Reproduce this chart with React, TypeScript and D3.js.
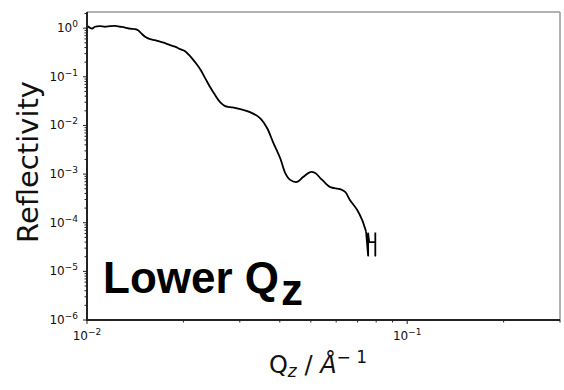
import React from "react";
import * as d3 from "d3";

// values
const qz = [
  0.01, 0.01014, 0.01037, 0.01059, 0.01098, 0.01138, 0.0118, 0.01223, 0.01268, 0.01315,
  0.01363, 0.01413, 0.01443, 0.01475, 0.01518, 0.01574, 0.01631, 0.01691, 0.01753, 0.01817,
  0.01884, 0.01953, 0.02024, 0.02099, 0.02175, 0.02255, 0.02338, 0.02423, 0.02512, 0.02604,
  0.027, 0.028, 0.0301, 0.0323, 0.0347, 0.0365, 0.0381, 0.0401, 0.0416, 0.0431,
  0.0453, 0.0473, 0.0498, 0.0516, 0.0535, 0.0554, 0.0575, 0.0617, 0.064, 0.0663,
  0.0698, 0.0723, 0.0744, 0.0755, 0.0755, 0.0761, 0.0795, 0.0795, 0.0795,
];
const reflectivity = [
  1.1, 1.05, 0.977, 1.07, 1.1, 1.07, 1.1, 1.11, 1.07, 1.03,
  0.977, 0.954, 0.91, 0.79, 0.669, 0.594, 0.567, 0.528, 0.492, 0.448,
  0.417, 0.37, 0.337, 0.266, 0.2, 0.144, 0.094, 0.0615, 0.0421, 0.0303,
  0.025, 0.0239, 0.0217, 0.0188, 0.0142, 0.00885, 0.00456, 0.00214, 0.00105, 7.6e-4,
  6.9e-4, 8.7e-4, 1.1e-3, 1.05e-3, 8.3e-4, 6.6e-4, 5.4e-4, 4.9e-4, 4.3e-4, 2.9e-4,
  1.83e-4, 1.14e-4, 6.5e-5, 2.1e-5, 6.0e-5, 4.0e-5, 4.0e-5, 2.1e-5, 6.3e-5,
];
// the noisy tail (last points) is drawn straight, the rest smoothed
const tailStart = 52;
const xMajorExp = [-2, -1];
const yMajorExp = [-6, -5, -4, -3, -2, -1, 0];

const W = 564;
const H = 390;
const margin = { top: 12, right: 4, bottom: 70, left: 87 };
const font = "DejaVu Sans, sans-serif";

const minus = (n: number) => (n < 0 ? "\u2212" + Math.abs(n) : String(n));

const App: React.FC = () => {
  const x = d3.scaleLog().domain([0.01, 0.3]).range([margin.left, W - margin.right]);
  const y = d3.scaleLog().domain([1e-6, 2.15]).range([H - margin.bottom, margin.top]);

  const pts = qz.map((q, i) => [q, reflectivity[i]] as [number, number]);
  const smooth = d3
    .line<[number, number]>()
    .x(d => x(d[0]))
    .y(d => y(d[1]))
    .curve(d3.curveCatmullRom.alpha(0.5));
  const straight = d3
    .line<[number, number]>()
    .x(d => x(d[0]))
    .y(d => y(d[1]));

  const isMajor = (v: number) => Math.abs(Math.log10(v) - Math.round(Math.log10(v))) < 1e-9;
  const xTicks = x.ticks().filter(v => v >= 0.01 && v <= 0.3);
  const yTicks = y.ticks().filter(v => v >= 1e-6 && v <= 2.15);

  const x0 = margin.left;
  const x1 = W - margin.right;
  const y0 = H - margin.bottom;
  const y1 = margin.top;

  return (
    <svg width={W} height={H} style={{ position: "absolute", left: 0, top: 0, background: "#fff" }} fontFamily={font}>
      <rect x={0} y={0} width={W} height={H} fill="#fff" />

      {/* curve */}
      <path d={smooth(pts.slice(0, tailStart + 1)) ?? ""} fill="none" stroke="#000" strokeWidth={1.8} strokeLinejoin="round" />
      <path d={straight(pts.slice(tailStart)) ?? ""} fill="none" stroke="#000" strokeWidth={1.8} strokeLinejoin="round" />

      {/* spines */}
      <line x1={x0} x2={x1} y1={y1} y2={y1} stroke="#999" strokeWidth={1.5} />
      <line x1={x1} x2={x1} y1={y1} y2={y0} stroke="#999" strokeWidth={1.5} />
      <line x1={x0} x2={x0} y1={y1} y2={y0 + 1} stroke="#222" strokeWidth={2} />
      <line x1={x0 - 1} x2={x1} y1={y0} y2={y0} stroke="#222" strokeWidth={2} />

      {/* x ticks */}
      {xTicks.map(v => (
        <line key={"xt" + v} x1={x(v)} x2={x(v)} y1={y0} y2={y0 + (isMajor(v) ? 4 : 2.5)} stroke="#222" strokeWidth={1} />
      ))}
      {xMajorExp.map(e => (
        <text key={"xl" + e} x={x(Math.pow(10, e))} y={340} textAnchor="middle" fontSize={12} fill="#111">
          10<tspan fontSize={9} dy={-5}>{minus(e)}</tspan>
        </text>
      ))}

      {/* y ticks */}
      {yTicks.map(v => (
        <line key={"yt" + v} x1={x0} x2={x0 - (isMajor(v) ? 4 : 2.5)} y1={y(v)} y2={y(v)} stroke="#222" strokeWidth={1} />
      ))}
      {yMajorExp.map(e => (
        <text key={"yl" + e} x={78} y={y(Math.pow(10, e)) + 4} textAnchor="end" fontSize={12} fill="#111">
          10<tspan fontSize={9} dy={-5}>{minus(e)}</tspan>
        </text>
      ))}

      {/* axis labels */}
      <text transform={`translate(38,162) rotate(-90)`} textAnchor="middle" fontSize={29} fill="#111">
        Reflectivity
      </text>
      <text x={318} y={373} textAnchor="middle" fontSize={24} fill="#111">
        Q<tspan fontStyle="italic" fontSize={17} dy={4}>z</tspan>
        <tspan dy={-4}> / </tspan>
        <tspan fontStyle="italic">Å</tspan>
        <tspan fontSize={17} dy={-10}>{"\u2212 1"}</tspan>
      </text>

      {/* annotation */}
      <text x={103} y={293} fontFamily="Liberation Sans, Arial, sans-serif" fontWeight="bold" fontSize={44} fill="#000">
        Lower Q<tspan dx={2} dy={12}>z</tspan>
      </text>
    </svg>
  );
};

export default App;
